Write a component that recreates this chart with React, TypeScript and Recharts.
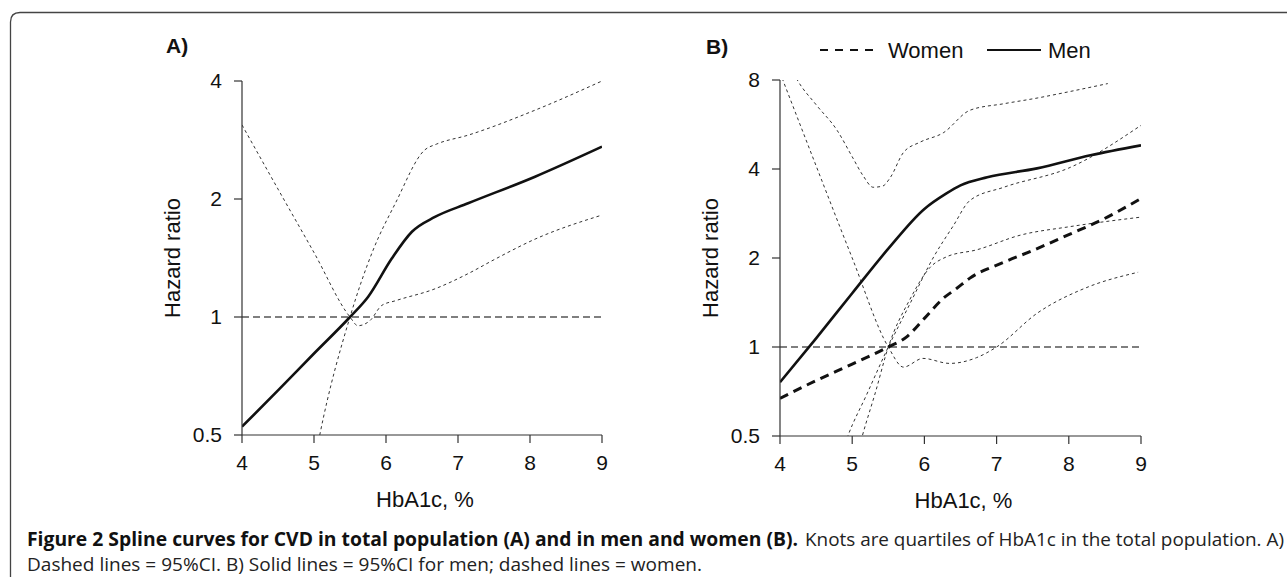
import React from "react";
import { LineChart, Line, XAxis, YAxis, ReferenceLine } from "recharts";

// ---------- Data ----------
const xTicks = [4, 5, 6, 7, 8, 9];
const yTicksA = [0.5, 1, 2, 4];
const yTicksB = [0.5, 1, 2, 4, 8];

// Panel A: total population
const aMainX = [4, 4.5, 5, 5.5, 5.75, 6.08, 6.36, 6.68, 7.14, 8.07, 9];
const aMainY = [0.525, 0.65, 0.807, 1.0, 1.125, 1.41, 1.65, 1.8, 1.95, 2.28, 2.72];

const aCiRiseX = [5.0, 5.08, 5.5, 5.82, 6.13, 6.54, 6.7, 7.14, 8.07, 9];
const aCiRiseY = [0.42, 0.5, 1.0, 1.48, 1.95, 2.67, 2.76, 2.91, 3.37, 4.0];

const aCiFallX = [4, 4.5, 5, 5.5, 5.61, 5.78, 5.94, 6.13, 6.68, 7.14, 7.5, 8.07, 9];
const aCiFallY = [3.09, 2.12, 1.46, 1.0, 0.95, 0.98, 1.07, 1.1, 1.18, 1.29, 1.4, 1.58, 1.82];

// Panel B: men and women
const menX = [4, 4.5, 5, 5.5, 6.0, 6.3, 6.5, 6.87, 7.56, 8.3, 9];
const menY = [0.76, 1.07, 1.52, 2.15, 2.93, 3.3, 3.52, 3.75, 4.02, 4.45, 4.81];

const menUpX = [4.15, 4.24, 4.5, 4.79, 5.0, 5.15, 5.29, 5.42, 5.53, 5.71, 5.94, 6.26, 6.63, 7.1, 7.56, 8.0, 8.54];
const menUpY = [8.8, 8.0, 6.6, 5.41, 4.4, 3.8, 3.47, 3.5, 3.75, 4.55, 4.93, 5.3, 6.32, 6.65, 6.95, 7.3, 7.78];

const menLowX = [5.1, 5.14, 5.32, 5.5, 5.8, 6.08, 6.31, 6.72, 7.33, 8.0, 9];
const menLowY = [0.46, 0.5, 0.7, 1.0, 1.45, 1.86, 2.02, 2.13, 2.39, 2.55, 2.75];

const womenX = [4, 4.5, 5, 5.5, 5.75, 6.0, 6.26, 6.45, 6.63, 7.09, 7.5, 8.0, 8.47, 9];
const womenY = [0.67, 0.77, 0.875, 1.0, 1.08, 1.25, 1.46, 1.58, 1.71, 1.93, 2.12, 2.4, 2.7, 3.18];

const womenCiFallX = [4.0, 4.5, 5.0, 5.5, 5.71, 5.98, 6.35, 6.72, 7.0, 7.56, 8.25, 8.96];
const womenCiFallY = [8.47, 4.1, 2.0, 1.0, 0.855, 0.915, 0.88, 0.92, 1.0, 1.3, 1.59, 1.79];

const womenCiRiseX = [4.9, 4.94, 5.2, 5.5, 5.8, 6.12, 6.4, 6.63, 7.1, 8.02, 9];
const womenCiRiseY = [0.47, 0.5, 0.69, 1.0, 1.4, 2.0, 2.57, 3.13, 3.47, 4.05, 5.62];

const legendLabels = ["Women", "Men"];

// ---------- helpers ----------
const zip = (xs: number[], ys: number[]) => xs.map((x, i) => ({ x, y: ys[i] }));

const FONT = "'Liberation Sans', Arial, Helvetica, sans-serif";
const CAP_FONT = "'Open Sans', 'Noto Sans', sans-serif";
const INK = "#111";
const CI = { stroke: "#333", strokeWidth: 1, strokeDasharray: "3 3" };

function XTitle(props: any) {
  const vb = props.viewBox || { x: 0, y: 0, width: 0, height: 0 };
  return (
    <text x={vb.x + vb.width / 2 + 3} y={vb.y + 72} textAnchor="middle" fontFamily={FONT} fontSize={22} fill={INK}>
      {props.text}
    </text>
  );
}

function YTitle(props: any) {
  const vb = props.viewBox || { x: 0, y: 0, width: 0, height: 0 };
  const cx = vb.x + 10;
  const cy = vb.y + vb.height / 2;
  return (
    <text
      x={cx}
      y={cy}
      transform={`rotate(-90 ${cx} ${cy})`}
      textAnchor="middle"
      dominantBaseline="central"
      fontFamily={FONT}
      fontSize={22}
      fill={INK}
    >
      {props.text}
    </text>
  );
}

const tickStyle = { fill: INK, fontSize: 21, fontFamily: FONT };
const axisStroke = { stroke: "#333", strokeWidth: 1.2 };

function PanelAxes(yTicks: number[], yMax: number) {
  return [
    <XAxis
      key="x"
      type="number"
      dataKey="x"
      domain={[4, 9]}
      ticks={xTicks}
      allowDataOverflow
      height={75}
      tickSize={8}
      tickMargin={12}
      tick={tickStyle}
      tickLine={axisStroke}
      axisLine={axisStroke}
      label={<XTitle text="HbA1c, %" />}
    />,
    <YAxis
      key="y"
      type="number"
      dataKey="y"
      scale="log"
      domain={[0.5, yMax]}
      ticks={yTicks}
      allowDataOverflow
      width={80}
      tickSize={8}
      tickMargin={12}
      tick={tickStyle}
      tickLine={axisStroke}
      axisLine={axisStroke}
      tickFormatter={(v: number) => String(v)}
      label={<YTitle text="Hazard ratio" />}
    />,
  ];
}

export default function App() {
  return (
    <div style={{ position: "absolute", left: 0, top: 0, width: 1287, height: 577, background: "#fff" }}>
      {/* Panel A */}
      <div style={{ position: "absolute", left: 0, top: 0 }}>
        <LineChart width={640} height={577} margin={{ top: 81, right: 38, left: 162, bottom: 67 }}>
          {PanelAxes(yTicksA, 4)}
          <ReferenceLine y={1} stroke="#000" strokeWidth={1.1} strokeDasharray="7 4" ifOverflow="hidden" />
          <Line data={zip(aCiFallX, aCiFallY)} dataKey="y" type="monotone" dot={false} {...CI} isAnimationActive={false} />
          <Line data={zip(aCiRiseX, aCiRiseY)} dataKey="y" type="monotone" dot={false} {...CI} isAnimationActive={false} />
          <Line data={zip(aMainX, aMainY)} dataKey="y" type="monotone" dot={false} stroke={INK} strokeWidth={2.6} isAnimationActive={false} />
        </LineChart>
      </div>

      {/* Panel B */}
      <div style={{ position: "absolute", left: 640, top: 0 }}>
        <LineChart width={647} height={577} margin={{ top: 80, right: 146, left: 60, bottom: 66 }}>
          {PanelAxes(yTicksB, 8)}
          <ReferenceLine y={1} stroke="#000" strokeWidth={1.1} strokeDasharray="7 4" ifOverflow="hidden" />
          <Line data={zip(womenCiFallX, womenCiFallY)} dataKey="y" type="monotone" dot={false} {...CI} isAnimationActive={false} />
          <Line data={zip(womenCiRiseX, womenCiRiseY)} dataKey="y" type="monotone" dot={false} {...CI} isAnimationActive={false} />
          <Line data={zip(menUpX, menUpY)} dataKey="y" type="monotone" dot={false} {...CI} isAnimationActive={false} />
          <Line data={zip(menLowX, menLowY)} dataKey="y" type="monotone" dot={false} {...CI} isAnimationActive={false} />
          <Line data={zip(womenX, womenY)} dataKey="y" type="monotone" dot={false} stroke={INK} strokeWidth={3} strokeDasharray="9 6" isAnimationActive={false} />
          <Line data={zip(menX, menY)} dataKey="y" type="monotone" dot={false} stroke={INK} strokeWidth={2.6} isAnimationActive={false} />
        </LineChart>
      </div>

      {/* Frame, panel labels, legend, caption */}
      <svg width={1287} height={577} style={{ position: "absolute", left: 0, top: 0, pointerEvents: "none" }}>
        <path d="M 10.5 577 L 10.5 22 Q 10.5 12.5 20 12.5 L 1287 12.5" fill="none" stroke="#444" strokeWidth={1.3} />
        <text x={166} y={53} fontFamily={FONT} fontWeight={700} fontSize={21} fill={INK}>A)</text>
        <text x={706} y={54} fontFamily={FONT} fontWeight={700} fontSize={21} fill={INK}>B)</text>

        <line x1={820} y1={50} x2={874} y2={50} stroke={INK} strokeWidth={2} strokeDasharray="8 7" />
        <text x={888} y={58} fontFamily={FONT} fontSize={22} fill={INK}>{legendLabels[0]}</text>
        <line x1={987} y1={50} x2={1041} y2={50} stroke={INK} strokeWidth={2} />
        <text x={1048} y={58} fontFamily={FONT} fontSize={22} fill={INK}>{legendLabels[1]}</text>

        <text x={27} y={546} fontFamily={CAP_FONT} fontWeight={700} fontSize={19} fill={INK} textLength={771} lengthAdjust="spacingAndGlyphs">
          Figure 2 Spline curves for CVD in total population (A) and in men and women (B).
        </text>
        <text x={805} y={546} fontFamily={CAP_FONT} fontSize={19} fill="#222" textLength={479} lengthAdjust="spacingAndGlyphs">
          Knots are quartiles of HbA1c in the total population. A)
        </text>
        <text x={27} y={571} fontFamily={CAP_FONT} fontSize={19} fill="#222" textLength={675} lengthAdjust="spacingAndGlyphs">
          Dashed lines = 95%CI. B) Solid lines = 95%CI for men; dashed lines = women.
        </text>
      </svg>
    </div>
  );
}
